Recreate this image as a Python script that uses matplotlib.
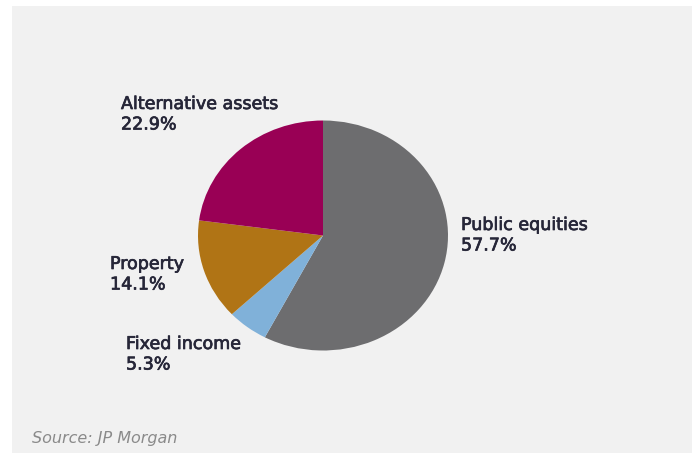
import matplotlib.pyplot as plt
import matplotlib.patheffects as pe
from matplotlib.patches import Rectangle

# Asset allocation shares (%)
labels = ['Public equities', 'Fixed income', 'Property', 'Alternative assets']
shares = [57.7, 5.3, 14.1, 22.9]
colors = ['#6d6d6f', '#80b1d9', '#b07415', '#990055']

W, H = 693, 453
fig = plt.figure(figsize=(W / 100, H / 100), dpi=100)
fig.patch.set_facecolor('white')

# grey panel behind the chart
fig.patches.append(Rectangle((12 / W, 0), (W - 13) / W, (H - 6) / H,
                             transform=fig.transFigure, facecolor='#f1f1f1',
                             edgecolor='none', zorder=-5))

# pie axes: centre (323, 235), radii 125 x 115 px
cx, cy, rx, ry = 323, 235.5, 125, 115
ax = fig.add_axes([(cx - rx) / W, (H - cy - ry) / H, 2 * rx / W, 2 * ry / H])
ax.set_zorder(2)
ax.pie(shares, colors=colors, startangle=90, counterclock=False,
       wedgeprops=dict(linewidth=0))
ax.set_aspect('auto')
ax.set_xlim(-1, 1)
ax.set_ylim(-1, 1)
ax.patch.set_alpha(0)

txt_color = '#262638'
font = 'DejaVu Sans'
heavy = [pe.withStroke(linewidth=0.5, foreground=txt_color)]
# left edge and baseline of the first line, in pixels
label_pos = {
    'Public equities': (461, 230),
    'Fixed income': (126, 349),
    'Property': (110, 269),
    'Alternative assets': (121, 109),
}
for name, val in zip(labels, shares):
    x, y = label_pos[name]
    fig.text(x / W, 1 - y / H, name, fontsize=12.6, color=txt_color,
             family=font, va='baseline', ha='left', zorder=3, path_effects=heavy)
    fig.text(x / W, 1 - (y + 20.5) / H, f'{val}%', fontsize=12.6, color=txt_color,
             family=font, va='baseline', ha='left', zorder=3, path_effects=heavy)

fig.text(32 / W, 1 - 443 / H, 'Source: JP Morgan', fontsize=11.5, style='italic',
         color='#8a8a8a', family='DejaVu Sans', va='baseline', ha='left')

fig.savefig('out.png', dpi=100)
